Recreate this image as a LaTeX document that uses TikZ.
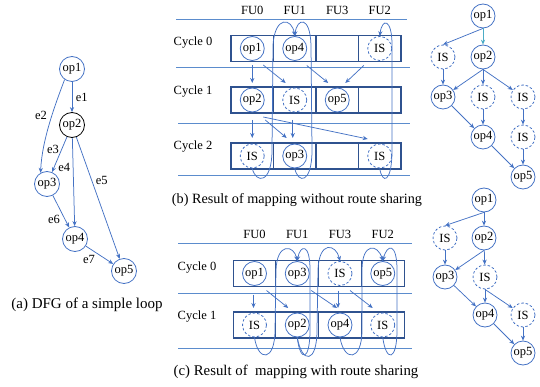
\documentclass[tikz,border=0pt]{standalone}
\usepackage{fontspec}
\setmainfont{Liberation Serif}
\usetikzlibrary{arrows.meta}
\definecolor{opblue}{RGB}{68,114,196}
\definecolor{boxblue}{RGB}{47,82,143}
\definecolor{sepblue}{RGB}{91,140,205}
\definecolor{tealblue}{RGB}{75,172,198}
\begin{document}
\begin{tikzpicture}[x=1pt, y=-1pt,
    op/.style={circle, draw=opblue, text=black, line width=0.8pt, minimum size=24pt, inner sep=0pt, font=\fontsize{12.5}{12.5}\selectfont},
    is/.style={op, dash pattern=on 2.5pt off 2pt},
    cell/.style={draw=boxblue, line width=1.1pt, minimum width=42.5pt, minimum height=26pt, inner sep=0pt},
    sep/.style={sepblue, line width=0.9pt},
    flow/.style={opblue, line width=0.75pt, -{Stealth[length=5pt,width=4.2pt]}},
    lbl/.style={text=black, font=\fontsize{12.5}{12.5}\selectfont, inner sep=1.5pt},
    captxt/.style={text=black, font=\fontsize{#1}{#1}\selectfont}]
    \useasboundingbox (0,0) rectangle (540,387);

    % Define the DFG (a)
    \node[op, minimum size=25pt] (aop1) at (72,69) {op1};
    \node[op, minimum size=25pt, draw=black] (aop2) at (72,125) {op2};
    \node[op, minimum size=25pt] (aop3) at (47,184) {op3};
    \node[op, minimum size=25pt] (aop4) at (75,239) {op4};
    \node[op, minimum size=25pt] (aop5) at (124,271) {op5};

    % Draw edges of (a)
    \draw[flow] (aop1) -- (aop2) node[lbl, midway, right=2pt] {e1};
    \draw[flow] (aop1.235) .. controls (55,105) and (42,140) .. (aop3.120) node[lbl, pos=0.42, left=3pt] {e2};
    \draw[flow] (aop2) -- (aop3) node[lbl, pos=0.35, left=1pt] {e3};
    \draw[flow] (aop2) -- (aop4) node[lbl, pos=0.33, left=1pt] {e4};
    \draw[flow] (aop2) -- (aop5) node[lbl, pos=0.36, right=2pt] {e5};
    \draw[flow] (aop3) -- (aop4) node[lbl, pos=0.55, below left] {e6};
    \draw[flow] (aop4) -- (aop5) node[lbl, pos=0.4, below left] {e7};
    \node[captxt=15] (acap) at (87,305) {(a) DFG of a simple loop};

    % Mapping without route sharing (b)
    \foreach \c/\t in {0/FU0,1/FU1,2/FU3,3/FU2}
        \node[lbl] (bfu\c) at ({252.25+42.5*\c},10) {\t};
    \draw[sep] (176,19) -- (407,19);
    \draw[sep] (176,67) -- (410,67);
    \draw[sep] (178,123) -- (410,123);
    \draw[sep] (178,175) -- (410,175);
    \node[lbl] (bcyc0) at (193,43) {Cycle 0};
    \node[lbl] (bcyc1) at (193,92) {Cycle 1};
    \node[lbl] (bcyc2) at (193,147) {Cycle 2};
    \foreach \r/\y in {0/48.5,1/100,2/156}
        \foreach \c in {0,1,2,3}
            \node[cell] (b\r\c) at ({252.25+42.5*\c},\y) {};

    \node[op] (bop1) at (b00) {op1};
    \node[op] (bop4) at (b01) {op4};
    \node[is] (bis0) at (b03) {IS};
    \node[op] (bop2) at (b10) {op2};
    \node[is] (bis1) at (b11) {IS};
    \node[op] (bop5) at (b12) {op5};
    \node[is] (bis2) at (b20) {IS};
    \node[op] (bop3) at (b21) {op3};
    \node[is] (bis3) at (b23) {IS};

    % Draw routes of (b)
    \draw[flow] ([shift={(0,17)}]bop1.center) -- ([shift={(0,-17)}]bop2.center);
    \draw[flow] ([shift={(11,16.5)}]bop1.center) -- ([shift={(-9,-17)}]bis1.center);
    \draw[flow] ([shift={(12,17)}]bop4.center) -- ([shift={(-9,-17)}]bop5.center);
    \draw[flow] ([shift={(-16,17)}]bis0.center) -- ([shift={(8,-17)}]bop5.center);
    \draw[flow] ([shift={(0,20)}]bop2.center) -- ([shift={(0,-18)}]bis2.center);
    \draw[flow] ([shift={(13,20)}]bop2.center) -- ([shift={(-8,-18)}]bop3.center);
    \draw[flow] ([shift={(-2,20)}]bis1.center) -- ([shift={(-2,-18)}]bop3.center);
    \draw[flow] ([shift={(11,17)}]bop2.center) -- ([shift={(-12,-17)}]bis3.center);
    \draw[flow] (bis2.south) .. controls (256,184) and (272,184) .. (272,150) -- (273,45) .. controls (275,15) and (292,18) .. (bop4.north);
    \draw[flow] (bop3.south) .. controls (298,184) and (312,184) .. (312,150) -- (311,45) .. controls (310,15) and (297,18) .. (bop4.north);
    \draw[flow] (bis3.south) .. controls (382,184) and (392,184) .. (392,150) -- (392,45) .. controls (392,18) and (382,18) .. (bis0.north);
    \node[captxt=14.2] (bcap) at (297,200) {(b) Result of mapping without route sharing};

    % Mapping with route sharing (c)
    \foreach \c/\t in {0/FU0,1/FU1,2/FU3,3/FU2}
        \node[lbl] (cfu\c) at ({254.5+42.75*\c},234) {\t};
    \draw[sep] (178,243) -- (412,243);
    \draw[sep] (178,293) -- (412,293);
    \draw[sep] (178,348) -- (412,348);
    \node[lbl] (ccyc0) at (197,268) {Cycle 0};
    \node[lbl] (ccyc1) at (197,317) {Cycle 1};
    \foreach \r/\y in {0/273.5,1/325}
        \foreach \c in {0,1,2,3}
            \node[cell, minimum width=42.75pt] (c\r\c) at ({254.5+42.75*\c},\y) {};

    \node[op] (cop1) at (c00) {op1};
    \node[op] (cop3) at (c01) {op3};
    \node[is] (cis0) at (c02) {IS};
    \node[op] (cop5) at (c03) {op5};
    \node[is] (cis1) at (c10) {IS};
    \node[op] (cop2) at (c11) {op2};
    \node[op] (cop4) at (c12) {op4};
    \node[is] (cis2) at (c13) {IS};

    % Draw routes of (c)
    \draw[flow] ([shift={(-1,21)}]cop1.center) -- ([shift={(-1,-17)}]cis1.center);
    \draw[flow] ([shift={(12,17)}]cop1.center) -- ([shift={(-9,-17)}]cop2.center);
    \draw[flow] ([shift={(14,17)}]cop3.center) -- ([shift={(-3,-17)}]cop4.center);
    \draw[flow] ([shift={(-2,17)}]cis0.center) -- ([shift={(-2,-17)}]cop4.center);
    \draw[flow] ([shift={(10,17)}]cis0.center) -- ([shift={(-10,-17)}]cis2.center);
    \draw[flow] (cis1.south) .. controls (258,362) and (275,362) .. (275,330) -- (276,270) .. controls (277,242) and (294,245) .. (cop3.north);
    \draw[flow] (cop2.south) .. controls (300,362) and (310,362) .. (310,330) -- (310,270) .. controls (310,242) and (300,245) .. (cop3.north);
    \draw[flow] (cop2.south) .. controls (302,364) and (317,364) .. (317,330) -- (318,270) .. controls (319,240) and (336,244) .. (cis0.north);
    \draw[flow] (cop4.south) .. controls (344,362) and (362,362) .. (362,330) -- (362,270) .. controls (362,242) and (378,244) .. (cop5.north);
    \draw[flow] (cis2.south) .. controls (386,362) and (397,362) .. (397,330) -- (397,270) .. controls (397,242) and (387,244) .. (cop5.north);
    \node[captxt=14.8] (ccap) at (296,372) {(c) Result of\ \ mapping with route sharing};

    % Graph with IS nodes for (b)
    \node[op] (top1) at (483,16) {op1};
    \node[is] (tis1) at (443,57) {IS};
    \node[op] (top2) at (483,57) {op2};
    \node[op] (top3) at (443,97) {op3};
    \node[is] (tis2) at (483,97) {IS};
    \node[is] (tis3) at (523,97) {IS};
    \node[op] (top4) at (483,137) {op4};
    \node[is] (tis4) at (523,137) {IS};
    \node[op] (top5) at (523,177) {op5};
    \draw[flow] (top1.south) -- (tis1.north);
    \draw[flow, tealblue] (top1) -- (top2);
    \draw[flow] (tis1) -- (top3);
    \draw[flow] (top2.south) -- (top3);
    \draw[flow] (top2) -- (tis2);
    \draw[flow] (top2.south) -- (tis3);
    \draw[flow] (tis2) -- (top4);
    \draw[flow] (top3) -- (top4);
    \draw[flow] (tis3) -- (tis4);
    \draw[flow] (tis4) -- (top5);
    \draw[flow] (top4) -- (top5);

    % Graph with IS nodes for (c)
    \node[op] (gop1) at (484,200) {op1};
    \node[is] (gis1) at (445,238) {IS};
    \node[op] (gop2) at (484,238) {op2};
    \node[op] (gop3) at (445,277) {op3};
    \node[is] (gis2) at (485,277) {IS};
    \node[op] (gop4) at (485,315) {op4};
    \node[is] (gis3) at (523,315) {IS};
    \node[op] (gop5) at (523,353) {op5};
    \draw[flow] (gop1.south) -- (gis1.north);
    \draw[flow] (gop1) -- (gop2);
    \draw[flow] (gis1) -- (gop3);
    \draw[flow] (gop2.south) -- (gop3);
    \draw[flow] (gop2) -- (gis2);
    \draw[flow] (gis2) -- (gop4);
    \draw[flow] (gis2.south) -- (gis3);
    \draw[flow] (gop3) -- (gop4);
    \draw[flow] (gop4) -- (gop5);
    \draw[flow] (gis3) -- (gop5);
\end{tikzpicture}
\end{document}
